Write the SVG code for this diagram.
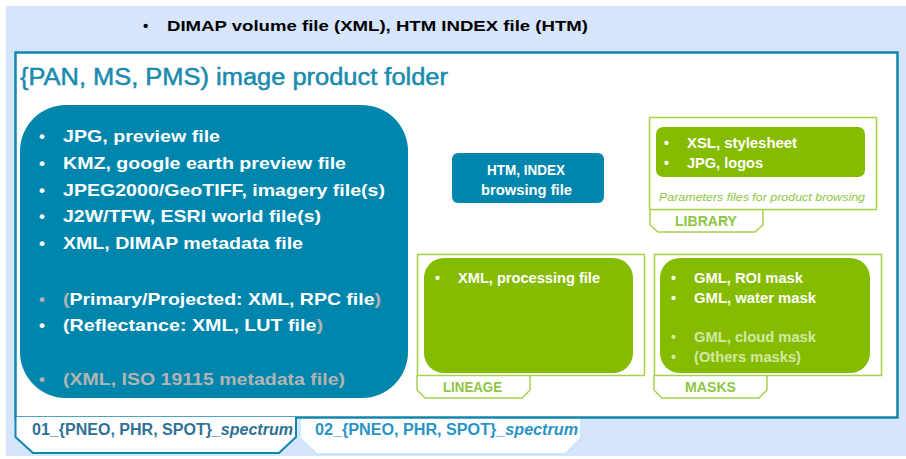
<svg xmlns="http://www.w3.org/2000/svg" width="906" height="459" viewBox="0 0 906 459">
  <style>
    .sans { font-family: "Liberation Sans", Arial, sans-serif; }
    .bold { font-weight: bold; }
    .teal { fill: #0086ad; }
    .grey { fill: #b4b4b4; }
    .frame { fill: #ffffff; stroke: #a6d14b; stroke-width: 1.5; }
    .green { fill: #86bc00; }
    .tabg { fill: #ffffff; stroke: #a6d14b; stroke-width: 1.5; }
    .tablabel { font-family: "Liberation Sans", Arial, sans-serif; font-weight: bold; font-size: 15px; fill: #8dc63f; }
    .big { font-family: "Liberation Sans", Arial, sans-serif; font-weight: bold; font-size: 17px; fill: #ffffff; }
    .small { font-family: "Liberation Sans", Arial, sans-serif; font-weight: bold; font-size: 14px; fill: #ffffff; }
    .faded { fill: #d3e8a6; }
  </style>

  <!-- background panel -->
  <rect x="6" y="6" width="900" height="450" fill="#d6e5fb"/>

  <!-- volume line -->
  <g id="volume">
    <text class="sans bold" x="143" y="31" font-size="15" fill="#000">•</text>
    <text class="sans bold" x="167" y="31" font-size="15" fill="#000" textLength="421" lengthAdjust="spacingAndGlyphs">DIMAP volume file (XML), HTM INDEX file (HTM)</text>
  </g>

  <!-- tab 02 (behind the folder frame) -->
  <g id="tab02">
    <path d="M300 417 L300 438 L317 454 L565 454 L581 438 L581 417 Z" fill="#ffffff" stroke="#bfe6f6" stroke-width="1.5"/>
    <text class="sans bold" x="315" y="435" font-size="16" fill="#2a94c6" textLength="263" lengthAdjust="spacingAndGlyphs">02_{PNEO, PHR,  SPOT}<tspan font-style="italic">_spectrum</tspan></text>
  </g>

  <!-- product folder frame -->
  <g id="folder">
    <rect x="15.5" y="52.5" width="882" height="365" fill="#ffffff" stroke="#0f86ad" stroke-width="2.5"/>
    <text class="sans" x="20" y="85" font-size="23.5" fill="#1a8aae" stroke="#1a8aae" stroke-width="0.5" textLength="428" lengthAdjust="spacingAndGlyphs">{PAN, MS, PMS) image product folder</text>
  </g>

  <!-- tab 01 -->
  <g id="tab01">
    <path d="M15.5 417 L15.5 437 L33 453 L279 453 L296 437 L296 417" fill="#ffffff" stroke="#0f86ad" stroke-width="2"/>
    <text class="sans bold" x="32" y="435" font-size="16" fill="#2f7195" textLength="261" lengthAdjust="spacingAndGlyphs">01_{PNEO, PHR,  SPOT}<tspan font-style="italic">_spectrum</tspan></text>
  </g>

  <!-- image files block -->
  <g id="image-files">
    <rect x="20" y="105" width="388" height="293" rx="46" ry="46" class="teal"/>
    <g class="big">
      <text x="39" y="142">•</text><text x="63" y="142" textLength="157" lengthAdjust="spacingAndGlyphs">JPG, preview file</text>
      <text x="39" y="169">•</text><text x="63" y="169" textLength="283" lengthAdjust="spacingAndGlyphs">KMZ, google earth preview file</text>
      <text x="39" y="196">•</text><text x="63" y="196" textLength="322" lengthAdjust="spacingAndGlyphs">JPEG2000/GeoTIFF, imagery file(s)</text>
      <text x="39" y="222">•</text><text x="63" y="222" textLength="258" lengthAdjust="spacingAndGlyphs">J2W/TFW,  ESRI world file(s)</text>
      <text x="39" y="249">•</text><text x="63" y="249" textLength="240" lengthAdjust="spacingAndGlyphs">XML, DIMAP metadata  file</text>
      <text x="39" y="305" class="grey">•</text><text x="63" y="305" textLength="318" lengthAdjust="spacingAndGlyphs"><tspan class="grey">(</tspan>Primary/Projected: XML, RPC file<tspan class="grey">)</tspan></text>
      <text x="39" y="331">•</text><text x="63" y="331" textLength="260" lengthAdjust="spacingAndGlyphs">(Reflectance: XML, LUT file<tspan class="grey">)</tspan></text>
      <text x="39" y="385" class="grey">•</text><text x="63" y="385" class="grey" textLength="282" lengthAdjust="spacingAndGlyphs">(XML, ISO 19115 metadata file)</text>
    </g>
  </g>

  <!-- browsing file -->
  <g id="htm-index">
    <rect x="452" y="153" width="152" height="50" rx="6" ry="6" class="teal"/>
    <text class="small" x="487" y="175" textLength="78" lengthAdjust="spacingAndGlyphs">HTM, INDEX</text>
    <text class="small" x="481" y="195" textLength="91" lengthAdjust="spacingAndGlyphs">browsing file</text>
  </g>

  <!-- library -->
  <g id="library">
    <path class="tabg" d="M650 210 L650 225 L658 232 L755 232 L763 225 L763 210"/>
    <text class="tablabel" x="675" y="226" textLength="62" lengthAdjust="spacingAndGlyphs">LIBRARY</text>
    <rect class="frame" x="649.5" y="117.5" width="227" height="92"/>
    <rect class="green" x="656" y="127" width="209" height="50" rx="7" ry="7"/>
    <g class="small">
      <text x="664" y="148">•</text><text x="687" y="148" textLength="110" lengthAdjust="spacingAndGlyphs">XSL, stylesheet</text>
      <text x="664" y="168">•</text><text x="687" y="168" textLength="76" lengthAdjust="spacingAndGlyphs">JPG, logos</text>
    </g>
    <text class="sans" x="659" y="201" font-size="11.5" font-style="italic" fill="#8dc63f" textLength="206" lengthAdjust="spacingAndGlyphs">Parameters  files for product browsing</text>
  </g>

  <!-- lineage -->
  <g id="lineage">
    <path class="tabg" d="M417 375 L417 390 L425 398 L522 398 L530 390 L530 375"/>
    <text class="tablabel" x="443" y="392" textLength="59" lengthAdjust="spacingAndGlyphs">LINEAGE</text>
    <rect class="frame" x="417.5" y="254.5" width="227" height="121"/>
    <rect class="green" x="424" y="258" width="209" height="115" rx="20" ry="20"/>
    <g class="small">
      <text x="435" y="283">•</text><text x="458" y="283" textLength="142" lengthAdjust="spacingAndGlyphs">XML, processing file</text>
    </g>
  </g>

  <!-- masks -->
  <g id="masks">
    <path class="tabg" d="M654 375 L654 390 L662 398 L759 398 L767 390 L767 375"/>
    <text class="tablabel" x="685" y="392" textLength="51" lengthAdjust="spacingAndGlyphs">MASKS</text>
    <rect class="frame" x="654.5" y="254.5" width="227" height="121"/>
    <rect class="green" x="660" y="258" width="210" height="115" rx="20" ry="20"/>
    <g class="small">
      <text x="671" y="283">•</text><text x="694" y="283" textLength="109" lengthAdjust="spacingAndGlyphs">GML, ROI mask</text>
      <text x="671" y="303">•</text><text x="694" y="303" textLength="122" lengthAdjust="spacingAndGlyphs">GML, water mask</text>
      <text x="671" y="342" class="faded">•</text><text x="694" y="342" class="faded" textLength="122" lengthAdjust="spacingAndGlyphs">GML, cloud mask</text>
      <text x="671" y="362" class="faded">•</text><text x="694" y="362" class="faded" textLength="107" lengthAdjust="spacingAndGlyphs">(Others masks)</text>
    </g>
  </g>
</svg>
